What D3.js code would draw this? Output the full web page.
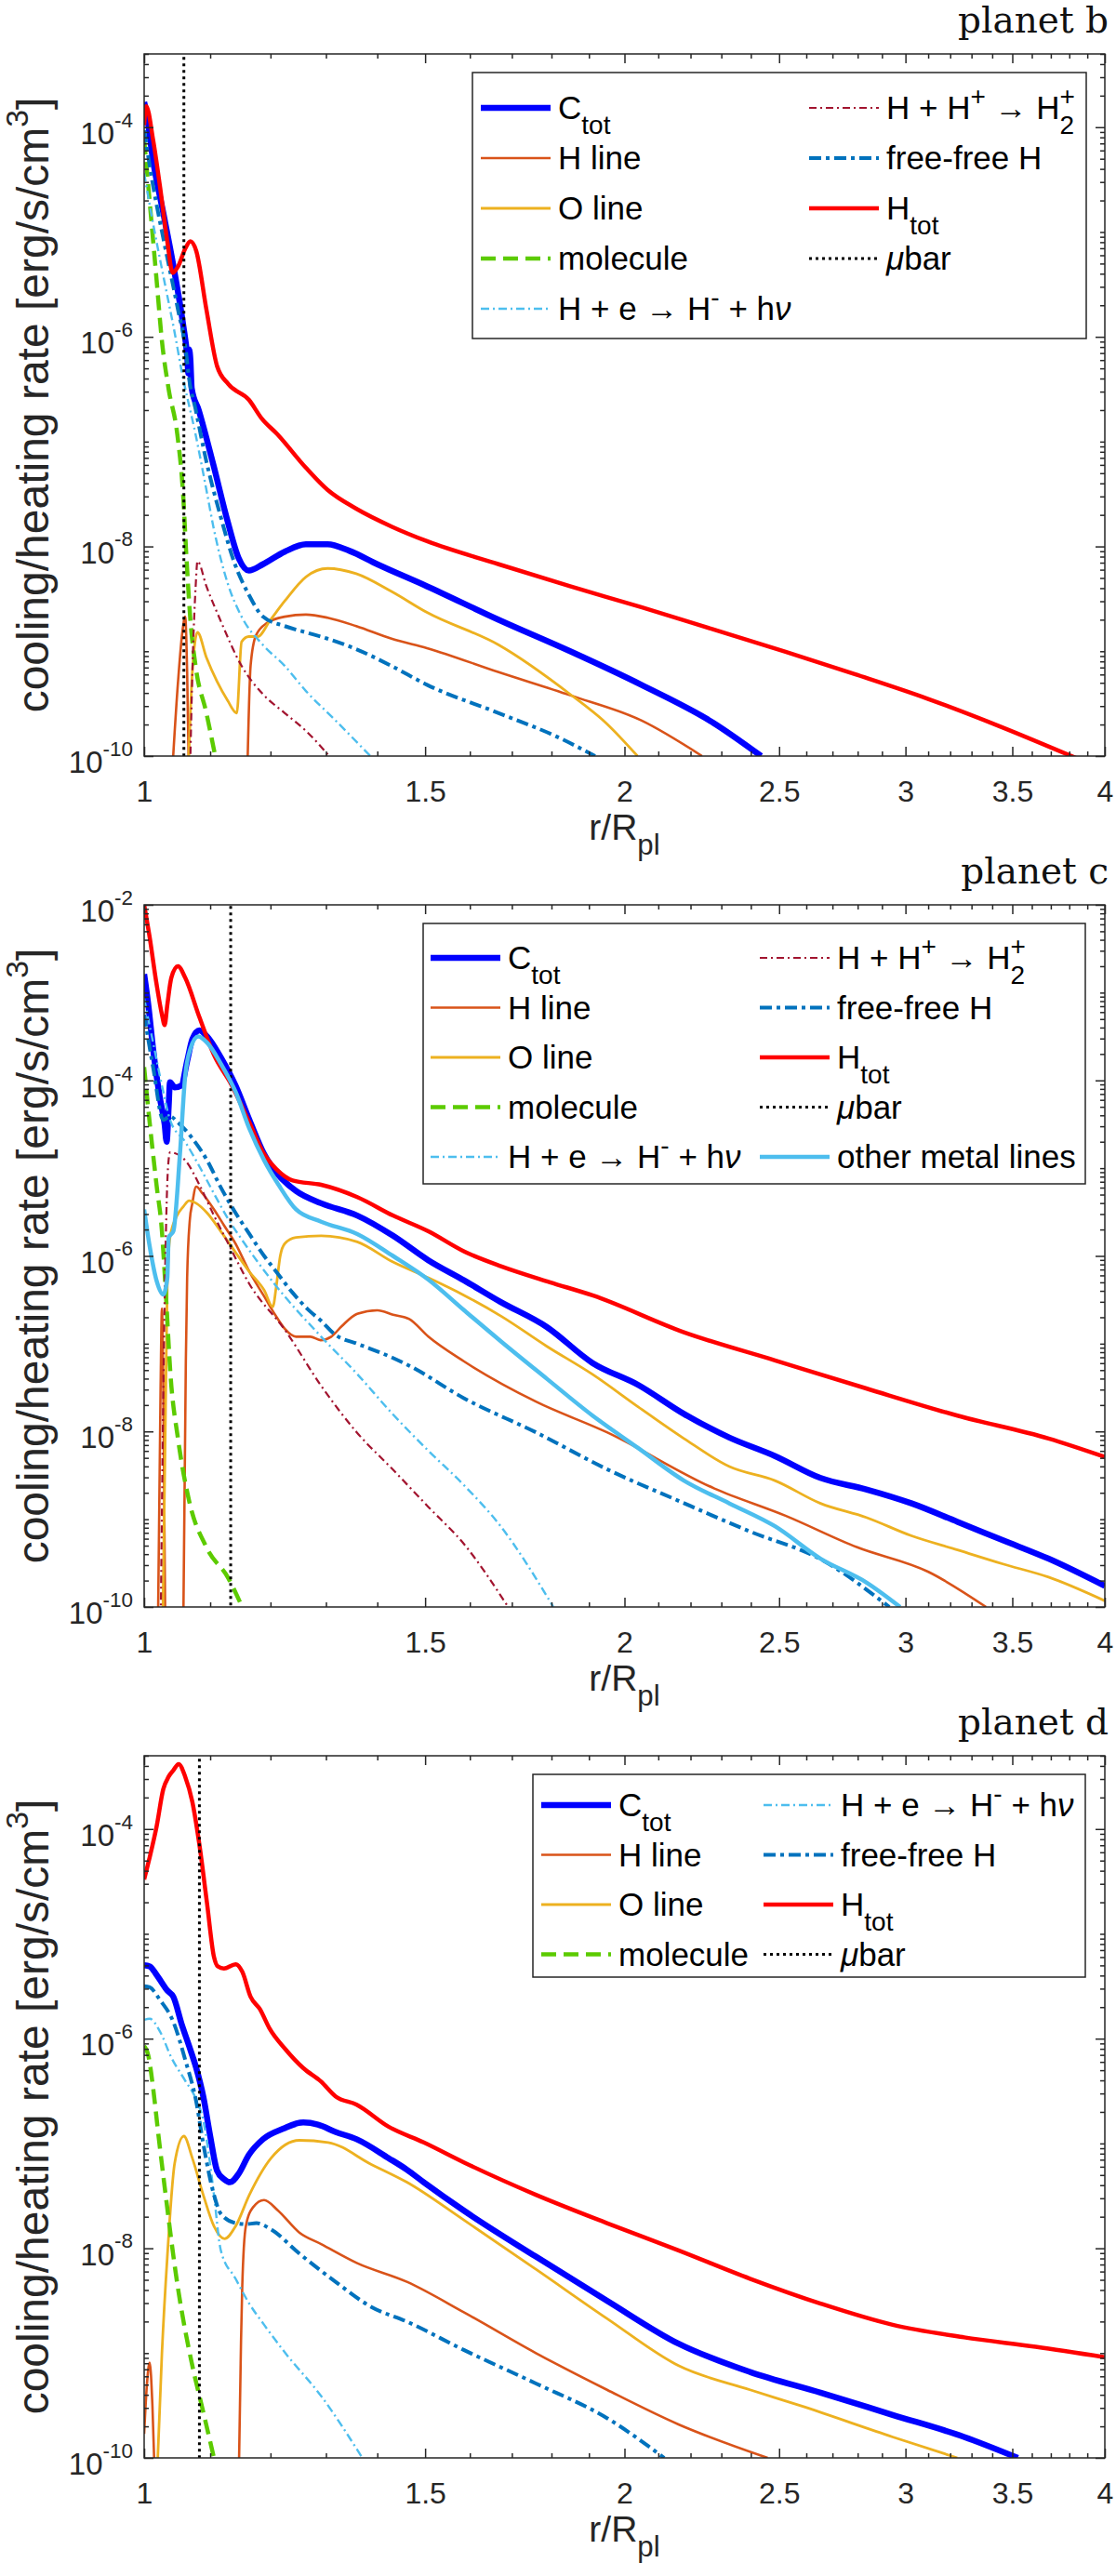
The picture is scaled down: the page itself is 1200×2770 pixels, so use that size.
<!DOCTYPE html>
<html>
<head>
<meta charset="utf-8">
<script src="https://d3js.org/d3.v7.min.js"></script>
<style>
  body { margin: 0; background: #fff; }
  text { font-family: "Liberation Sans", Arial, Helvetica, sans-serif; }
</style>
</head>
<body>
<svg id="fig" width="1200" height="2770"></svg>
<script>
// ---- data: every point is [r/Rpl, log10(rate in erg/s/cm^3)], null breaks a line ----

// planet b
const bCtot = [[1.000,-3.76],[1.003,-3.85],[1.013,-4.32],[1.029,-4.85],[1.045,-5.39],[1.058,-5.89],[1.064,-6.18],[1.066,-6.35],[1.067,-6.12],[1.069,-6.22],[1.071,-6.49],[1.082,-6.70],[1.105,-7.22],[1.128,-7.76],[1.146,-8.11],[1.163,-8.23],[1.187,-8.17],[1.225,-8.05],[1.263,-7.98],[1.303,-7.98],[1.344,-8.04],[1.400,-8.17],[1.504,-8.38],[1.668,-8.70],[1.849,-9.00],[2.049,-9.32],[2.272,-9.68],[2.436,-10.0]];
const bHline = [[1.040,-10.3],[1.050,-9.3],[1.057,-8.8],[1.061,-8.67],[1.064,-9.2],[1.067,-10.3], null,
  [1.160,-10.3],[1.166,-9.14],[1.175,-8.85],[1.194,-8.73],[1.225,-8.67],[1.263,-8.65],[1.303,-8.68],[1.358,-8.76],[1.429,-8.88],[1.504,-8.97],[1.668,-9.20],[1.849,-9.42],[2.049,-9.66],[2.237,-10.0]];
const bOline = [[1.065,-10.3],[1.072,-9.2],[1.080,-8.82],[1.094,-9.06],[1.111,-9.29],[1.128,-9.47],[1.143,-9.59],[1.151,-8.91],[1.163,-8.86],[1.178,-8.86],[1.200,-8.70],[1.225,-8.52],[1.263,-8.29],[1.303,-8.21],[1.358,-8.26],[1.429,-8.43],[1.504,-8.63],[1.668,-8.94],[1.849,-9.41],[1.946,-9.68],[2.038,-10.0]];
const bMolecule = [[1.000,-4.12],[1.008,-4.71],[1.018,-5.45],[1.026,-6.04],[1.036,-6.50],[1.049,-6.93],[1.058,-7.52],[1.063,-8.11],[1.069,-8.70],[1.077,-9.14],[1.094,-9.59],[1.108,-10.0]];
const bHeHm = [[1.000,-4.44],[1.013,-4.92],[1.029,-5.45],[1.045,-5.96],[1.056,-6.34],[1.077,-6.93],[1.094,-7.46],[1.105,-7.81],[1.128,-8.35],[1.151,-8.67],[1.187,-8.94],[1.225,-9.14],[1.263,-9.38],[1.316,-9.65],[1.386,-10.0]];
const bHHp = [[1.068,-10.3],[1.073,-9.0],[1.077,-8.4],[1.080,-8.14],[1.094,-8.38],[1.116,-8.70],[1.151,-9.14],[1.187,-9.41],[1.225,-9.59],[1.263,-9.76],[1.306,-10.0]];
const bFreeFree = [[1.000,-4.03],[1.013,-4.56],[1.029,-5.09],[1.050,-5.74],[1.062,-6.13],[1.067,-6.40],[1.077,-6.69],[1.094,-7.19],[1.116,-7.70],[1.140,-8.17],[1.163,-8.46],[1.187,-8.67],[1.225,-8.76],[1.263,-8.82],[1.303,-8.88],[1.358,-8.98],[1.429,-9.14],[1.504,-9.32],[1.668,-9.59],[1.811,-9.81],[1.917,-10.0]];
const bHtot = [[1.000,-3.98],[1.003,-3.80],[1.013,-4.12],[1.023,-4.56],[1.034,-5.09],[1.042,-5.39],[1.050,-5.33],[1.061,-5.16],[1.069,-5.09],[1.078,-5.18],[1.094,-5.74],[1.111,-6.28],[1.129,-6.45],[1.163,-6.60],[1.185,-6.78],[1.212,-6.93],[1.263,-7.25],[1.303,-7.46],[1.358,-7.64],[1.429,-7.81],[1.504,-7.95],[1.668,-8.17],[1.849,-8.38],[2.049,-8.58],[2.272,-8.79],[2.518,-9.00],[2.791,-9.22],[3.094,-9.45],[3.429,-9.71],[3.839,-10.02]];
const bMubar = 1.059;

// planet c
const cCtot = [[1.000,-2.79],[1.006,-3.14],[1.013,-3.64],[1.023,-4.20],[1.030,-4.50],[1.033,-4.70],[1.036,-4.30],[1.038,-4.02],[1.045,-4.08],[1.055,-4.06],[1.064,-3.78],[1.072,-3.53],[1.083,-3.43],[1.095,-3.50],[1.117,-3.74],[1.141,-4.06],[1.164,-4.45],[1.189,-4.84],[1.214,-5.08],[1.245,-5.26],[1.291,-5.40],[1.360,-5.54],[1.432,-5.77],[1.507,-6.05],[1.587,-6.28],[1.671,-6.52],[1.788,-6.81],[1.910,-7.22],[2.040,-7.47],[2.179,-7.80],[2.327,-8.07],[2.485,-8.28],[2.654,-8.53],[2.835,-8.66],[3.027,-8.82],[3.234,-9.03],[3.453,-9.24],[3.688,-9.45],[4.000,-9.76]];
const cHline = [[1.020,-10.3],[1.024,-7.5],[1.026,-6.6],[1.028,-7.5],[1.031,-10.3], null,
  [1.058,-10.3],[1.062,-7.2],[1.064,-6.25],[1.068,-5.6],[1.072,-5.40],[1.078,-5.21],[1.088,-5.29],[1.106,-5.47],[1.122,-5.65],[1.141,-5.86],[1.164,-6.18],[1.189,-6.46],[1.208,-6.67],[1.225,-6.83],[1.245,-6.92],[1.271,-6.92],[1.290,-6.96],[1.310,-6.92],[1.330,-6.80],[1.360,-6.66],[1.400,-6.62],[1.432,-6.67],[1.466,-6.72],[1.507,-6.92],[1.586,-7.20],[1.760,-7.66],[1.950,-8.01],[2.277,-8.65],[2.523,-8.96],[2.798,-9.32],[3.101,-9.60],[3.370,-10.0]];
const cOline = [[1.027,-10.3],[1.031,-8.0],[1.034,-6.3],[1.038,-5.79],[1.048,-5.55],[1.058,-5.44],[1.067,-5.37],[1.078,-5.40],[1.095,-5.51],[1.117,-5.72],[1.141,-5.96],[1.164,-6.18],[1.189,-6.39],[1.204,-6.58],[1.210,-6.35],[1.217,-6.00],[1.225,-5.86],[1.245,-5.79],[1.291,-5.77],[1.360,-5.84],[1.432,-6.07],[1.507,-6.25],[1.587,-6.45],[1.675,-6.69],[1.788,-7.03],[1.910,-7.35],[2.040,-7.72],[2.179,-8.08],[2.327,-8.40],[2.485,-8.56],[2.654,-8.82],[2.835,-8.98],[3.027,-9.19],[3.234,-9.35],[3.453,-9.51],[3.688,-9.66],[4.000,-9.93]];
const cMolecule = [[1.000,-3.85],[1.008,-4.48],[1.018,-5.19],[1.026,-5.72],[1.031,-6.32],[1.039,-7.38],[1.050,-8.08],[1.067,-8.79],[1.094,-9.32],[1.129,-9.67],[1.152,-10.0]];
const cHeHm = [[1.000,-3.07],[1.013,-3.57],[1.028,-4.13],[1.038,-4.45],[1.061,-4.70],[1.083,-4.98],[1.106,-5.29],[1.129,-5.58],[1.152,-5.82],[1.207,-6.32],[1.291,-6.92],[1.359,-7.34],[1.431,-7.80],[1.507,-8.22],[1.586,-8.61],[1.671,-9.07],[1.805,-10.0]];
const cHHp = [[1.024,-10.3],[1.030,-6.5],[1.035,-5.0],[1.038,-4.82],[1.061,-4.91],[1.083,-5.19],[1.106,-5.54],[1.129,-5.86],[1.164,-6.32],[1.226,-6.85],[1.291,-7.48],[1.359,-8.01],[1.431,-8.43],[1.507,-8.86],[1.586,-9.28],[1.691,-10.0]];
const cFreeFree = [[1.000,-3.25],[1.013,-3.85],[1.028,-4.45],[1.038,-4.41],[1.050,-4.48],[1.072,-4.66],[1.095,-4.91],[1.117,-5.22],[1.141,-5.51],[1.164,-5.75],[1.189,-6.00],[1.210,-6.18],[1.239,-6.42],[1.265,-6.60],[1.291,-6.74],[1.318,-6.90],[1.360,-7.00],[1.431,-7.16],[1.469,-7.26],[1.586,-7.62],[1.760,-8.01],[1.950,-8.43],[2.162,-8.79],[2.397,-9.14],[2.657,-9.46],[2.931,-10.0]];
const cHtot = [[1.000,-2.00],[1.008,-2.37],[1.018,-2.90],[1.026,-3.25],[1.030,-3.37],[1.034,-3.14],[1.040,-2.83],[1.050,-2.70],[1.061,-2.83],[1.083,-3.28],[1.106,-3.71],[1.135,-4.06],[1.164,-4.48],[1.189,-4.84],[1.210,-5.01],[1.239,-5.14],[1.291,-5.19],[1.360,-5.33],[1.432,-5.54],[1.507,-5.72],[1.587,-5.95],[1.675,-6.12],[1.796,-6.30],[1.910,-6.45],[2.179,-6.87],[2.485,-7.19],[2.835,-7.51],[3.234,-7.82],[3.688,-8.08],[4.000,-8.29]];
const cOther = [[1.000,-5.47],[1.008,-5.89],[1.018,-6.28],[1.028,-6.44],[1.034,-6.25],[1.036,-5.79],[1.043,-5.72],[1.053,-4.84],[1.061,-3.95],[1.069,-3.64],[1.081,-3.50],[1.095,-3.57],[1.117,-3.81],[1.141,-4.13],[1.164,-4.55],[1.189,-4.91],[1.214,-5.19],[1.245,-5.47],[1.291,-5.61],[1.360,-5.75],[1.432,-6.00],[1.507,-6.27],[1.587,-6.62],[1.675,-6.98],[1.788,-7.40],[1.910,-7.82],[2.040,-8.19],[2.179,-8.56],[2.327,-8.82],[2.485,-9.08],[2.654,-9.45],[2.835,-9.72],[2.977,-10.0]];
const cMubar = 1.133;

// planet d
const dCtot = [[1.000,-5.30],[1.008,-5.31],[1.018,-5.39],[1.034,-5.54],[1.043,-5.60],[1.056,-5.87],[1.067,-6.07],[1.078,-6.28],[1.089,-6.55],[1.100,-6.93],[1.111,-7.26],[1.122,-7.34],[1.132,-7.37],[1.146,-7.29],[1.163,-7.11],[1.187,-6.96],[1.222,-6.86],[1.258,-6.80],[1.285,-6.82],[1.318,-6.89],[1.359,-6.96],[1.423,-7.14],[1.461,-7.25],[1.497,-7.37],[1.586,-7.64],[1.760,-8.08],[1.950,-8.50],[2.162,-8.91],[2.397,-9.18],[2.657,-9.38],[2.945,-9.59],[3.265,-9.80],[3.528,-10.0]];
const dHline = [[1.000,-9.77],[1.004,-9.3],[1.008,-9.09],[1.012,-9.5],[1.016,-10.3], null,
  [1.146,-10.3],[1.150,-8.9],[1.152,-8.38],[1.158,-7.79],[1.170,-7.61],[1.189,-7.54],[1.213,-7.64],[1.251,-7.85],[1.291,-7.96],[1.359,-8.14],[1.461,-8.32],[1.586,-8.61],[1.760,-9.00],[1.950,-9.35],[2.162,-9.68],[2.459,-10.0]];
const dOline = [[1.018,-10.3],[1.026,-9.0],[1.034,-8.08],[1.045,-7.19],[1.059,-6.93],[1.072,-7.14],[1.089,-7.49],[1.106,-7.79],[1.123,-7.91],[1.141,-7.79],[1.164,-7.49],[1.201,-7.14],[1.251,-6.97],[1.304,-6.99],[1.388,-7.20],[1.461,-7.37],[1.586,-7.73],[1.760,-8.20],[1.950,-8.67],[2.162,-9.12],[2.397,-9.35],[2.576,-9.50],[2.945,-9.80],[3.233,-10.0]];
const dMolecule = [[1.000,-6.07],[1.006,-6.16],[1.013,-6.47],[1.021,-6.93],[1.029,-7.36],[1.050,-8.38],[1.072,-9.12],[1.089,-9.56],[1.106,-10.0]];
const dHeHm = [[1.000,-5.82],[1.008,-5.81],[1.023,-5.93],[1.040,-6.18],[1.061,-6.40],[1.078,-6.58],[1.089,-6.78],[1.100,-7.20],[1.106,-7.49],[1.117,-8.02],[1.141,-8.29],[1.164,-8.53],[1.189,-8.73],[1.226,-9.00],[1.291,-9.41],[1.370,-10.0]];
const dFreeFree = [[1.000,-5.50],[1.008,-5.51],[1.023,-5.63],[1.043,-5.84],[1.061,-6.20],[1.078,-6.60],[1.089,-7.00],[1.106,-7.49],[1.117,-7.67],[1.141,-7.76],[1.158,-7.77],[1.176,-7.76],[1.201,-7.82],[1.251,-8.05],[1.318,-8.32],[1.388,-8.56],[1.461,-8.70],[1.586,-8.97],[1.760,-9.29],[1.950,-9.62],[2.118,-10.0]];
const dHtot = [[1.000,-4.48],[1.008,-4.27],[1.018,-3.98],[1.028,-3.62],[1.036,-3.50],[1.043,-3.44],[1.051,-3.38],[1.061,-3.50],[1.072,-3.74],[1.083,-4.15],[1.095,-4.71],[1.106,-5.22],[1.112,-5.31],[1.122,-5.33],[1.141,-5.29],[1.152,-5.36],[1.166,-5.60],[1.182,-5.72],[1.198,-5.90],[1.226,-6.10],[1.258,-6.28],[1.291,-6.41],[1.318,-6.55],[1.359,-6.63],[1.423,-6.84],[1.497,-6.99],[1.586,-7.18],[1.760,-7.49],[1.950,-7.76],[2.162,-8.02],[2.397,-8.29],[2.657,-8.53],[2.945,-8.73],[3.265,-8.85],[3.620,-8.94],[4.000,-9.04]];
const dMubar = 1.083;

// axes ticks and titles
const xTickValues = [1, 1.5, 2, 2.5, 3, 3.5, 4];
const yTickExpBD = [-10, -8, -6, -4];
const yTickExpC = [-10, -8, -6, -4, -2];
const panelTitles = ['planet b', 'planet c', 'planet d'];

// ---- drawing ----
const AX = '#262626';
const X0 = 155, X1 = 1188, PH = 755;
const svg = d3.select('#fig');
const x = d3.scaleLog().domain([1, 4]).range([X0, X1]);

const STYLES = {
  Ctot:     { color: '#0000ff', w: 6.5 },
  Hline:    { color: '#d95319', w: 2.6 },
  Oline:    { color: '#edb120', w: 2.8 },
  molecule: { color: '#5ccb00', w: 4.5, dash: '16,8' },
  HeHm:     { color: '#4dbeee', w: 2.4, dash: '9,4,2,4' },
  HHp:      { color: '#a2142f', w: 2.2, dash: '8,4,2,4' },
  ff:       { color: '#0072bd', w: 4,   dash: '13,5,4,5' },
  Htot:     { color: '#ff0000', w: 4.5 },
  mubar:    { color: '#000000', w: 3,   dash: '3,4' },
  other:    { color: '#4dbeee', w: 4.5 }
};

const LABELS = {
  Ctot: [{t: 'C'}, {t: 'tot', s: 'sub'}],
  Hline: [{t: 'H line'}],
  Oline: [{t: 'O line'}],
  molecule: [{t: 'molecule'}],
  HeHm: [{t: 'H + e \u2192 H'}, {t: '-', s: 'sup'}, {t: ' + h'}, {t: '\u03bd', it: true}],
  HHp: [{t: 'H + H'}, {t: '+', s: 'sup'}, {t: ' \u2192 H'}, {t: '2', s: 'sub'}, {t: '+', s: 'sup', stack: true}],
  ff: [{t: 'free-free H'}],
  Htot: [{t: 'H'}, {t: 'tot', s: 'sub'}],
  mubar: [{t: '\u03bc', it: true}, {t: 'bar'}],
  other: [{t: 'other metal lines'}]
};

// text with sub/superscripts, laid out piece by piece
function rich(parent, x0, y0, parts, size, anchor, opt) {
  opt = opt || {};
  const scale = opt.scale || 0.78, raise = opt.raise || 0.42, drop = opt.drop || 0.42;
  const g = parent.append('g');
  let cx = 0, prevStart = 0;
  parts.forEach(p => {
    const fs = p.s ? size * scale : size;
    const dy = p.s === 'sub' ? size * drop : p.s === 'sup' ? -size * raise : 0;
    const sx = p.stack ? prevStart : cx;
    const t = g.append('text').attr('x', sx).attr('y', dy)
      .attr('font-size', fs).attr('fill', opt.fill || '#000')
      .style('white-space', 'pre').text(p.t);
    if (p.it) t.attr('font-style', 'italic');
    prevStart = sx;
    cx = Math.max(cx, sx + t.node().getComputedTextLength());
  });
  const shift = anchor === 'end' ? -cx : anchor === 'middle' ? -cx / 2 : 0;
  g.attr('transform', 'translate(' + (x0 + shift) + ',' + y0 + ')');
  return g;
}

function styleLine(sel, st) {
  sel.attr('fill', 'none').attr('stroke', st.color).attr('stroke-width', st.w)
    .attr('stroke-linejoin', 'round');
  if (st.dash) sel.attr('stroke-dasharray', st.dash);
  return sel;
}

function styleAxis(g) {
  g.select('.domain').remove();
  g.selectAll('line').attr('stroke', AX).attr('stroke-width', 1.5);
}

const xMinor = d3.range(11, 40).filter(i => i % 5).map(i => i / 10);

function drawPanel(p, idx) {
  const top = p.top, bottom = top + PH;
  const y = d3.scaleLog().domain([1e-10, p.yMax]).range([bottom, top]);
  const g = svg.append('g');

  const clipId = 'clip' + idx;
  g.append('clipPath').attr('id', clipId).append('rect')
    .attr('x', X0).attr('y', top).attr('width', X1 - X0).attr('height', PH);
  const plot = g.append('g').attr('clip-path', 'url(#' + clipId + ')');

  const line = d3.line()
    .defined(d => d !== null)
    .x(d => x(d[0]))
    .y(d => y(Math.pow(10, d[1])))
    .curve(d3.curveMonotoneX);

  p.order.forEach(key => {
    if (key === 'mubar') {
      styleLine(plot.append('path')
        .datum([[p.mubar, -10.5], [p.mubar, Math.log10(p.yMax) + 0.5]])
        .attr('d', d3.line().x(d => x(d[0])).y(d => y(Math.pow(10, d[1])))), STYLES.mubar);
    } else {
      styleLine(plot.append('path').datum(p.series[key]).attr('d', line), STYLES[key]);
    }
  });

  // ticks on all four sides, pointing inwards
  const yMajor = p.yExp.map(e => Math.pow(10, e));
  const yMinor = [];
  for (let e = -10; e <= 0; e++) {
    for (let k = 1; k <= 9; k++) {
      const v = k * Math.pow(10, e);
      if (v > p.yMax * 1.0001) continue;
      if (k === 1 && p.yExp.includes(e)) continue;
      yMinor.push(v);
    }
  }
  const axes = [
    [d3.axisBottom(x).tickValues(xTickValues), bottom, 'x'],
    [d3.axisTop(x).tickValues(xTickValues), top, 'x'],
    [d3.axisLeft(y).tickValues(yMajor), X0, 'y'],
    [d3.axisRight(y).tickValues(yMajor), X1, 'y']
  ];
  axes.forEach(([ax, pos, dim]) => {
    const ga = g.append('g').attr('transform', dim === 'x' ? 'translate(0,' + pos + ')' : 'translate(' + pos + ',0)')
      .call(ax.tickSizeInner(-10).tickSizeOuter(0).tickFormat(''));
    styleAxis(ga);
  });
  const minorAxes = [
    [d3.axisBottom(x).tickValues(xMinor), bottom, 'x'],
    [d3.axisTop(x).tickValues(xMinor), top, 'x'],
    [d3.axisLeft(y).tickValues(yMinor), X0, 'y'],
    [d3.axisRight(y).tickValues(yMinor), X1, 'y']
  ];
  minorAxes.forEach(([ax, pos, dim]) => {
    const ga = g.append('g').attr('transform', dim === 'x' ? 'translate(0,' + pos + ')' : 'translate(' + pos + ',0)')
      .call(ax.tickSizeInner(-5).tickSizeOuter(0).tickFormat(''));
    styleAxis(ga);
  });

  // x tick labels
  const gxl = g.append('g').attr('transform', 'translate(0,' + bottom + ')')
    .call(d3.axisBottom(x).tickValues(xTickValues).tickSize(0).tickPadding(26).tickFormat(d3.format('~g')));
  gxl.select('.domain').remove();
  gxl.attr('font-family', null).attr('font-size', null);
  gxl.selectAll('text').attr('font-size', 32).attr('fill', AX);

  // y tick labels 10^n
  p.yExp.forEach(e => {
    rich(g, 143, y(Math.pow(10, e)) + 18, [{t: '10'}, {t: String(e), s: 'sup'}], 33, 'end',
      {scale: 0.68, raise: 0.55, fill: AX});
  });

  // frame
  g.append('rect').attr('x', X0).attr('y', top).attr('width', X1 - X0).attr('height', PH)
    .attr('fill', 'none').attr('stroke', AX).attr('stroke-width', 1.5);

  // axis labels
  rich(g, (X0 + X1) / 2, bottom + 90, [{t: 'r/R'}, {t: 'pl', s: 'sub'}], 39, 'middle',
    {scale: 0.8, drop: 0.4, fill: AX});
  const yl = g.append('g').attr('transform', 'translate(52,' + (top + PH / 2) + ') rotate(-90)');
  rich(yl, 0, 0, [{t: 'cooling/heating rate [erg/s/cm'}, {t: '3', s: 'sup'}, {t: ']'}], 48, 'middle',
    {scale: 0.7, raise: 0.45, fill: AX});

  // title
  g.append('text').attr('x', 1192).attr('y', top - 23).attr('text-anchor', 'end')
    .attr('font-size', 39).style('font-family', '"DejaVu Serif", "Liberation Serif", serif')
    .attr('fill', '#111').text(p.title);

  // legend
  const L = p.legend;
  const lg = g.append('g');
  lg.append('rect').attr('x', L.x).attr('y', L.y).attr('width', L.w).attr('height', L.h)
    .attr('fill', '#fff').attr('stroke', AX).attr('stroke-width', 1.5);
  L.entries.forEach((col, ci) => col.forEach((key, ri) => {
    const ly = L.y + L.first + L.step * ri;
    const lx = L.cols[ci];
    styleLine(lg.append('line').attr('x1', lx).attr('x2', lx + 75).attr('y1', ly).attr('y2', ly), STYLES[key]);
    rich(lg, lx + 83, ly + 12, LABELS[key], 35, 'start', {scale: 0.8, drop: 0.45, raise: 0.42});
  }));
}

const panels = [
  {
    top: 58, yMax: 5e-4, yExp: yTickExpBD, title: panelTitles[0], mubar: bMubar,
    series: {Ctot: bCtot, Hline: bHline, Oline: bOline, molecule: bMolecule, HeHm: bHeHm, HHp: bHHp, ff: bFreeFree, Htot: bHtot},
    order: ['Ctot', 'Hline', 'Oline', 'molecule', 'HeHm', 'HHp', 'ff', 'Htot', 'mubar'],
    legend: {x: 508, y: 78, w: 660, h: 286, first: 38, step: 54, cols: [517, 870],
      entries: [['Ctot', 'Hline', 'Oline', 'molecule', 'HeHm'], ['HHp', 'ff', 'Htot', 'mubar']]}
  },
  {
    top: 973, yMax: 1e-2, yExp: yTickExpC, title: panelTitles[1], mubar: cMubar,
    series: {Ctot: cCtot, Hline: cHline, Oline: cOline, molecule: cMolecule, HeHm: cHeHm, HHp: cHHp, ff: cFreeFree, Htot: cHtot, other: cOther},
    order: ['Ctot', 'Hline', 'Oline', 'molecule', 'HeHm', 'HHp', 'ff', 'Htot', 'mubar', 'other'],
    legend: {x: 455, y: 993, w: 712, h: 280, first: 37, step: 53.5, cols: [463, 817],
      entries: [['Ctot', 'Hline', 'Oline', 'molecule', 'HeHm'], ['HHp', 'ff', 'Htot', 'mubar', 'other']]}
  },
  {
    top: 1888, yMax: 5e-4, yExp: yTickExpBD, title: panelTitles[2], mubar: dMubar,
    series: {Ctot: dCtot, Hline: dHline, Oline: dOline, molecule: dMolecule, HeHm: dHeHm, ff: dFreeFree, Htot: dHtot},
    order: ['Ctot', 'Hline', 'Oline', 'molecule', 'HeHm', 'ff', 'Htot', 'mubar'],
    legend: {x: 573, y: 1908, w: 594, h: 218, first: 33, step: 53.5, cols: [582, 821],
      entries: [['Ctot', 'Hline', 'Oline', 'molecule'], ['HeHm', 'ff', 'Htot', 'mubar']]}
  }
];

panels.forEach(drawPanel);
</script>
</body>
</html>
